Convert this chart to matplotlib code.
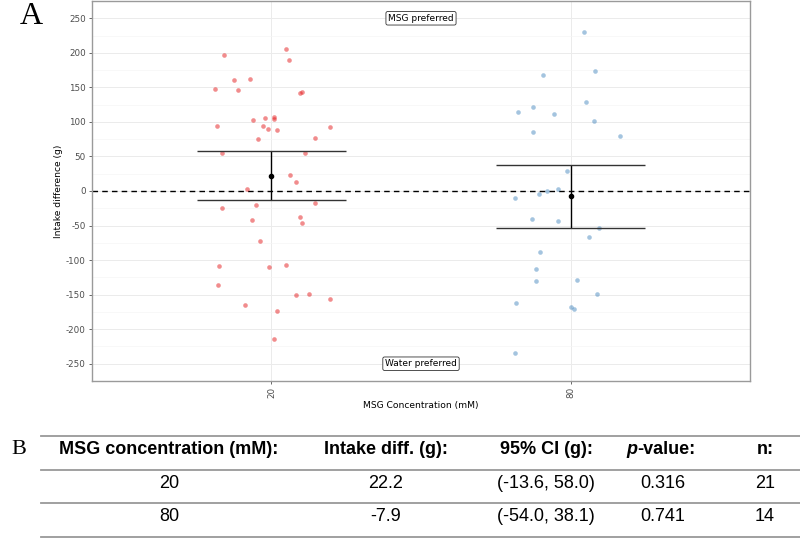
import matplotlib
matplotlib.use("Agg")
import matplotlib.pyplot as plt
from matplotlib.lines import Line2D
import numpy as np

# ---------------- data ----------------
groups = ["20", "80"]
vals_20 = [196.2, 205.3, 189.0, 160.2, 162.5, 148.0, 146.2, 141.8, 143.7, 103.3,
           105.3, 107.2, 104.3, 94.2, 94.2, 90.3, 88.9, 92.3, 77.3, 75.9,
           55.3, 55.3, 23.5, 12.4, 2.3, -24.5, -19.8, -17.9, -41.4, -37.5,
           -46.7, -71.7, -109.2, -109.7, -107.4, -135.6, -150.6, -148.6, -156.4, -164.5,
           -173.7, -214.6]
jitter_20 = [-0.158, 0.048, 0.060, -0.126, -0.072, -0.189, -0.112, 0.097, 0.103, -0.062,
             -0.020, 0.008, 0.009, -0.181, -0.027, -0.013, 0.019, 0.195, 0.146, -0.045,
             -0.166, 0.113, 0.063, 0.083, -0.082, -0.167, -0.052, 0.146, -0.064, 0.097,
             0.103, -0.039, -0.176, -0.008, 0.048, -0.179, 0.083, 0.126, 0.196, -0.087,
             0.018, 0.010]
vals_80 = [229.9, 173.2, 168.3, 128.4, 122.1, 114.9, 111.1, 101.9, 80.2, 85.1,
           28.3, 2.3, 0.0, -4.9, -9.7, -41.0, -42.9, -54.0, -65.9, -88.6,
           -113.6, -130.4, -128.4, -148.6, -161.6, -167.4, -170.8, -233.8]
jitter_80 = [0.044, 0.082, -0.092, 0.052, -0.126, -0.176, -0.055, 0.080, 0.167, -0.127,
             -0.013, -0.042, -0.079, -0.107, -0.187, -0.130, -0.042, 0.094, 0.062, -0.102,
             -0.117, -0.115, 0.023, 0.090, -0.183, 0.000, 0.011, -0.186]
means = [22.2, -7.9]
ci_low = [-13.6, -54.0]
ci_high = [58.0, 38.1]
yticks = [-250, -200, -150, -100, -50, 0, 50, 100, 150, 200, 250]

table_header = ["MSG concentration (mM):", "Intake diff. (g):", "95% CI (g):", "p-value:", "n:"]
table_rows = [["20", "22.2", "(-13.6, 58.0)", "0.316", "21"],
              ["80", "-7.9", "(-54.0, 38.1)", "0.741", "14"]]

# ---------------- figure ----------------
fig = plt.figure(figsize=(8.0, 5.38), dpi=100)
W, H = 800, 538
ax = fig.add_axes([92 / W, 1 - 381 / H, (750 - 92) / W, (381 - 1) / H])

pt_colors = ["#E41A1C", "#377EB8"]
alphas = [0.5, 0.45]
for i, (vals, jit) in enumerate([(vals_20, jitter_20), (vals_80, jitter_80)]):
    xs = i + 1 + np.array(jit)
    ax.scatter(xs, vals, s=11, color=pt_colors[i], alpha=alphas[i], linewidths=0, zorder=3)

xpos = np.arange(1, len(groups) + 1)
ax.axhline(0, color="black", lw=1.0, ls=(0, (4, 3)), zorder=2)
for i in range(len(groups)):
    ax.vlines(xpos[i], ci_low[i], ci_high[i], color="black", lw=1.0, zorder=4)
    ax.hlines([ci_low[i], ci_high[i]], xpos[i] - 0.25, xpos[i] + 0.25, color="#333333", lw=1.0, zorder=4)
ax.scatter(xpos, means, s=9, color="black", zorder=5)

ax.text(1.5, 250, "MSG preferred", ha="center", va="center", fontsize=6.5, color="black",
        bbox=dict(boxstyle="round,pad=0.25,rounding_size=0.2", fc="white", ec="#333333", lw=0.6), zorder=6)
ax.text(1.5, -250, "Water preferred", ha="center", va="center", fontsize=6.5, color="black",
        bbox=dict(boxstyle="round,pad=0.25,rounding_size=0.2", fc="white", ec="#333333", lw=0.6), zorder=6)

ax.set_xlim(0.4, 2.6)
ax.set_ylim(-274, 275)
ax.set_xticks(xpos)
ax.set_xticklabels(groups, rotation=90, fontsize=6.3, color="#4D4D4D")
ax.set_yticks(yticks)
ax.set_yticklabels([str(t) for t in yticks], fontsize=6.3, color="#4D4D4D")
ax.set_yticks(np.arange(-275, 276, 50), minor=True)
ax.tick_params(axis="both", which="major", length=2.5, width=0.6, color="#4D4D4D", pad=2)
ax.tick_params(axis="both", which="minor", length=0)
ax.grid(True, which="major", color="#EBEBEB", lw=0.7, zorder=0)
ax.grid(True, which="minor", axis="y", color="#F5F5F5", lw=0.5, zorder=0)
ax.set_axisbelow(True)
for sp in ax.spines.values():
    sp.set_color("#9A9A9A")
    sp.set_linewidth(1.0)
ax.set_ylabel("Intake difference (g)", fontsize=6.6, labelpad=2)
ax.set_xlabel("MSG Concentration (mM)", fontsize=6.6, labelpad=2)

fig.text(20 / W, 1 - 17 / H, "A", family="Liberation Serif", fontsize=23, ha="left", va="center")

# ---------------- table (panel B) ----------------
tax = fig.add_axes([0, 0, 1, (H - 420) / H])
tax.set_xlim(0, W)
tax.set_ylim(H, 420)
tax.axis("off")
fig.text(11 / W, 1 - 449 / H, "B", family="Liberation Serif", fontsize=16, ha="left", va="center")

rule_y = [436.3, 470.0, 502.7, 536.7]
for y in rule_y:
    tax.add_line(Line2D([41, 800], [y, y], color="#999999", lw=1.3))

col_x = [169, 386, 546, 663, 765]
fs = 13
tfont = "Liberation Sans"
for j, h in enumerate(table_header):
    if h.startswith("p-"):
        tax.text(col_x[j] - 26, 449.3, "p", family=tfont, fontsize=fs, fontweight="bold",
                 style="italic", ha="right", va="center")
        tax.text(col_x[j] - 26, 449.3, h[1:], family=tfont, fontsize=fs, fontweight="bold",
                 ha="left", va="center")
    else:
        tax.text(col_x[j], 449.3, h, family=tfont, fontsize=fs, fontweight="bold",
                 ha="center", va="center")
row_y = [483.3, 516.7]
for r, row in enumerate(table_rows):
    for j, v in enumerate(row):
        tax.text(col_x[j], row_y[r], v, family=tfont, fontsize=fs, ha="center", va="center")

fig.savefig("out.png", dpi=100)
